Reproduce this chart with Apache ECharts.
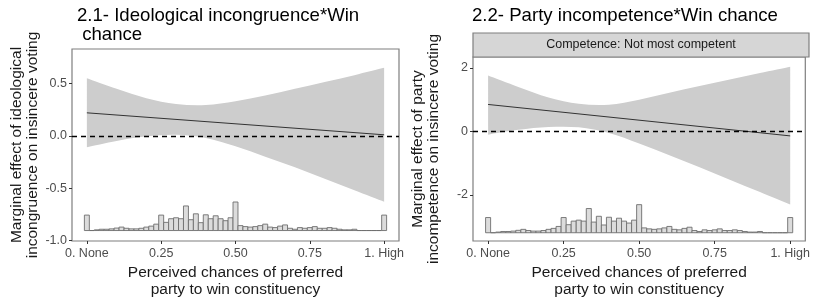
<!DOCTYPE html>
<html>
<head>
<meta charset="utf-8">
<script src="https://cdn.jsdelivr.net/npm/echarts@6/dist/echarts.min.js"></script>
<style>
  html, body { margin: 0; padding: 0; background: #fff; }
  #chart { width: 813px; height: 303px; }
</style>
</head>
<body>
<div id="chart"></div>
<script>
// perceived chance of preferred party winning (moderator)
const bandX = [0, 0.1, 0.2, 0.3, 0.4, 0.5, 0.6, 0.7, 0.8, 0.9, 1];
const effectX = [0, 1];

// 2.1 ideological incongruence
const ideoEffect = [0.22, 0.01];
const ideoUpper = [0.55, 0.45, 0.36, 0.305, 0.295, 0.33, 0.385, 0.45, 0.515, 0.58, 0.65];
const ideoLower = [-0.11, -0.05, -0.005, 0.01, -0.02, -0.10, -0.20, -0.30, -0.41, -0.52, -0.63];

// 2.2 party incompetence (not most competent)
const compEffect = [0.85, -0.14];
const compUpper = [1.76, 1.40, 1.07, 0.87, 0.84, 1.0, 1.22, 1.43, 1.64, 1.84, 2.04];
const compLower = [-0.10, 0.05, 0.14, 0.13, -0.05, -0.38, -0.75, -1.13, -1.52, -1.91, -2.30];

// distribution of the moderator, bins of 1/60 centred on each step
const histStep = 1 / 60;
const histCounts = [
  15.7, 0, 0.7, 1.3, 1.3, 1.7, 2.5, 3.5, 2.3, 1.7,
  1.7, 2.3, 3.5, 4.5, 6.5, 15.7, 8.3, 12, 13, 12,
  25, 11, 17, 8, 16, 12, 15, 12, 10, 13,
  29, 5, 4, 3.5, 4, 5, 6.5, 3.5, 3, 4.5,
  5.7, 2.3, 1.3, 3, 2.3, 3, 4, 2.3, 2.3, 3,
  2.3, 1.3, 0.7, 0.7, 1.3, 0, 0, 0, 0, 0,
  15.7
];

const xTicks = [0, 0.25, 0.5, 0.75, 1];
const xTickLabels = ['0. None', '0.25', '0.50', '0.75', '1. High'];
const ideoTicks = [-1, -0.5, 0, 0.5];
const compTicks = [-2, 0, 2];

const FONT = '"Liberation Sans", Arial, Helvetica, sans-serif';
const INK = '#1a1a1a';
const TICK_TEXT = '#4d4d4d';
const BORDER = '#7f7f7f';

const panels = [
  { grid: { left: 72, top: 49, width: 327, height: 192 }, yMin: -1.005, yMax: 0.83,
    yTicks: ideoTicks, digits: 1, histBase: -0.905, histScale: 0.0094,
    upper: ideoUpper, lower: ideoLower, effect: ideoEffect,
    yName: 'Marginal effect of ideological\nincongruence on insincere voting' },
  { grid: { left: 473, top: 57, width: 336, height: 184 }, yMin: -3.45, yMax: 2.345,
    yTicks: compTicks, digits: 0, histBase: -3.19, histScale: 0.0305,
    upper: compUpper, lower: compLower, effect: compEffect,
    yName: 'Marginal effect of party\nincompetence on insincere voting' }
];

// smooth svg path segments through pixel points (catmull-rom as cubic beziers)
function curveThrough(pts) {
  let d = '';
  for (let i = 0; i < pts.length - 1; i++) {
    const p0 = pts[i - 1] || pts[i], p1 = pts[i], p2 = pts[i + 1], p3 = pts[i + 2] || pts[i + 1];
    const c1 = [p1[0] + (p2[0] - p0[0]) / 6, p1[1] + (p2[1] - p0[1]) / 6];
    const c2 = [p2[0] - (p3[0] - p1[0]) / 6, p2[1] - (p3[1] - p1[1]) / 6];
    d += ' C' + c1.join(',') + ' ' + c2.join(',') + ' ' + p2.join(',');
  }
  return d;
}

const grids = [], xAxes = [], yAxes = [], series = [];

panels.forEach((p, i) => {
  grids.push(Object.assign({ show: true, borderColor: BORDER, borderWidth: 1.2, backgroundColor: '#fff' }, p.grid));

  xAxes.push({
    gridIndex: i, type: 'value', min: -0.05, max: 1.05,
    axisLine: { show: false, onZero: false }, splitLine: { show: false },
    axisTick: { show: true, length: 3, customValues: xTicks, lineStyle: { color: '#333', width: 1 } },
    axisLabel: {
      customValues: xTicks, margin: 6, color: TICK_TEXT, fontSize: 12.5, fontFamily: FONT,
      formatter: v => xTickLabels[xTicks.indexOf(v)]
    },
    name: 'Perceived chances of preferred\nparty to win constituency',
    nameLocation: 'middle', nameGap: 22,
    nameTextStyle: { fontSize: 15.5, lineHeight: 16.5, color: INK, fontFamily: FONT }
  });

  yAxes.push({
    gridIndex: i, type: 'value', min: p.yMin, max: p.yMax,
    axisLine: { show: false, onZero: false }, splitLine: { show: false },
    axisTick: { show: true, length: 3, customValues: p.yTicks, lineStyle: { color: '#333', width: 1 } },
    axisLabel: {
      customValues: p.yTicks, margin: 5, color: TICK_TEXT, fontSize: 12.5, fontFamily: FONT,
      formatter: v => v.toFixed(p.digits)
    },
    name: p.yName, nameLocation: 'middle', nameGap: 31,
    nameTextStyle: { fontSize: 15.5, lineHeight: 16.5, color: INK, fontFamily: FONT }
  });

  // confidence band: upper edge forward, lower edge back
  series.push({
    type: 'custom', xAxisIndex: i, yAxisIndex: i, silent: true, z: 1,
    data: bandX.map((x, j) => [x, p.lower[j], p.upper[j]]),
    renderItem: (params, api) => {
      if (params.dataIndex !== 0) return null;
      const top = bandX.map((x, j) => api.coord([x, p.upper[j]]));
      const bottom = bandX.map((x, j) => api.coord([x, p.lower[j]])).reverse();
      const d = 'M' + top[0].join(',') + curveThrough(top) +
                ' L' + bottom[0].join(',') + curveThrough(bottom) + ' Z';
      return {
        type: 'path',
        shape: { pathData: d },
        style: { fill: '#cdcdcd', stroke: 'none' }
      };
    }
  });

  // marginal effect line with zero reference
  series.push({
    type: 'line', xAxisIndex: i, yAxisIndex: i,
    data: effectX.map((x, j) => [x, p.effect[j]]),
    symbol: 'none', lineStyle: { color: '#333', width: 1 }, silent: true, z: 3,
    markLine: {
      silent: true, symbol: ['none', 'none'], label: { show: false },
      lineStyle: { color: '#000', type: [5, 4], width: 1.3 },
      data: [{ yAxis: 0 }]
    }
  });

  // histogram of the moderator
  series.push({
    type: 'custom', xAxisIndex: i, yAxisIndex: i, silent: true, z: 4,
    data: histCounts.map((c, k) => [k * histStep, c]),
    renderItem: (params, api) => {
      const x = api.value(0), c = api.value(1);
      const a = api.coord([x - histStep / 2, p.histBase]);
      const b = api.coord([x + histStep / 2, p.histBase + c * p.histScale]);
      return {
        type: 'rect',
        shape: { x: a[0], y: b[1], width: b[0] - a[0], height: a[1] - b[1] },
        style: { fill: '#dcdcdc', stroke: '#6e6e6e', lineWidth: 0.9 }
      };
    }
  });
});

const chart = echarts.init(document.getElementById('chart'), null, { renderer: 'canvas' });
chart.setOption({
  animation: false,
  backgroundColor: '#fff',
  textStyle: { fontFamily: FONT },
  title: [
    { text: '2.1- Ideological incongruence*Win\n chance', left: 77, top: 6, padding: 0,
      textStyle: { fontSize: 18.6, lineHeight: 19.5, fontWeight: 'normal', color: '#000', fontFamily: FONT } },
    { text: '2.2- Party incompetence*Win chance', left: 472, top: 6, padding: 0,
      textStyle: { fontSize: 18.6, lineHeight: 19.5, fontWeight: 'normal', color: '#000', fontFamily: FONT } }
  ],
  grid: grids,
  xAxis: xAxes,
  yAxis: yAxes,
  series: series,
  graphic: [
    { type: 'rect', shape: { x: 473, y: 33, width: 336, height: 24 },
      style: { fill: '#d6d6d6', stroke: BORDER, lineWidth: 1.2 }, silent: true },
    { type: 'text', x: 641, y: 45,
      style: { text: 'Competence: Not most competent', fontSize: 12.5, fontFamily: FONT,
               fill: INK, align: 'center', verticalAlign: 'middle' }, silent: true }
  ]
});
</script>
</body>
</html>
